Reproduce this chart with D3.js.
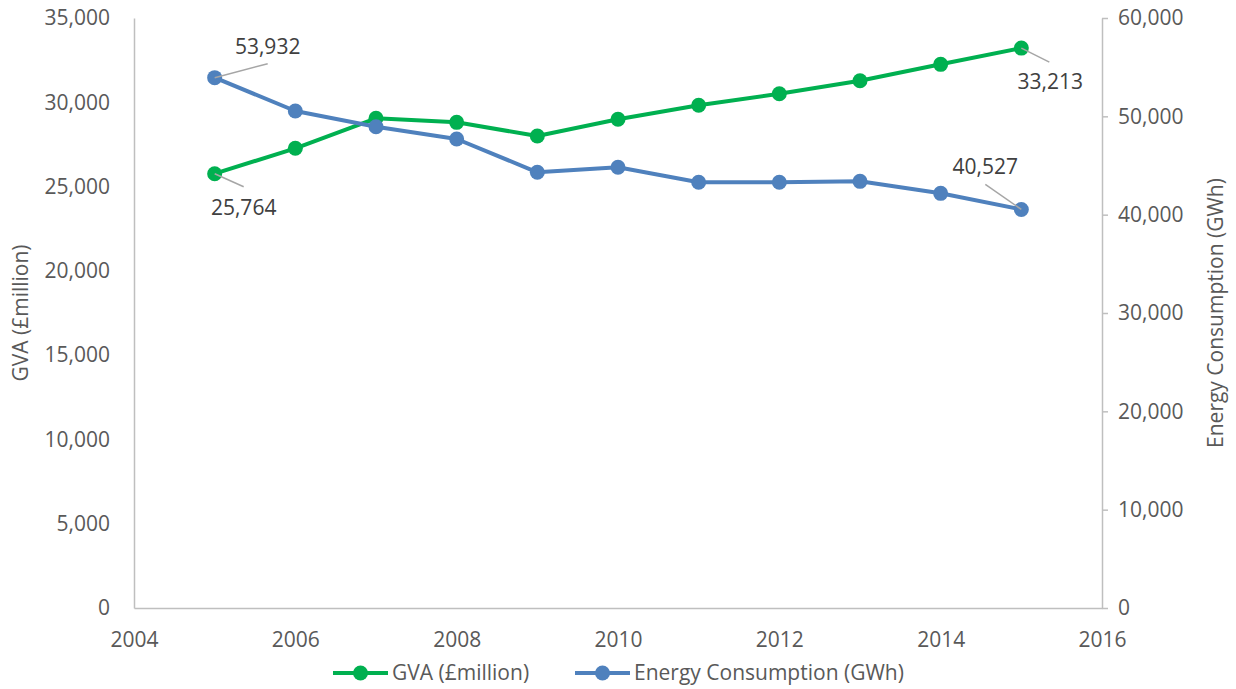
<!DOCTYPE html>
<html>
<head>
<meta charset="utf-8">
<script src="https://cdn.jsdelivr.net/npm/d3@7/dist/d3.min.js"></script>
<style>
  html, body { margin: 0; padding: 0; background: #fff; }
  svg { display: block; }
  text { font-family: "Open Sans", "Noto Sans", sans-serif; }
</style>
</head>
<body>
<svg id="chart" width="1236" height="689"></svg>
<script>
// Years and series values
const years = [2005, 2006, 2007, 2008, 2009, 2010, 2011, 2012, 2013, 2014, 2015];
const gva = [25764, 27270, 29050, 28811, 28000, 28990, 29820, 30510, 31280, 32252, 33213];
const energy = [53932, 50542, 48946, 47695, 44308, 44817, 43290, 43290, 43390, 42170, 40527];

// Axis ticks
const xTicks = [2004, 2006, 2008, 2010, 2012, 2014, 2016];
const leftTicks = [0, 5000, 10000, 15000, 20000, 25000, 30000, 35000];
const rightTicks = [0, 10000, 20000, 30000, 40000, 50000, 60000];

// Series names
const seriesNames = ["GVA (£million)", "Energy Consumption (GWh)"];

const GREEN = "#00B050";
const BLUE = "#4F81BD";
const AXIS = "#BFBFBF";
const TICKTXT = "#595959";
const LABELTXT = "#404040";
const FS = 21;

const svg = d3.select("#chart");
const plotL = 134, plotR = 1102, plotT = 18, plotB = 608;

const x = d3.scaleLinear().domain([2004, 2016]).range([plotL, plotR]);
const yL = d3.scaleLinear().domain([0, 35000]).range([plotB, plotT]);
const yR = d3.scaleLinear().domain([0, 60000]).range([plotB, plotT]);
const fmt = d3.format(",");

function styleAxis(g) {
  g.select(".domain").attr("stroke", AXIS).attr("stroke-width", 1.5);
  g.selectAll(".tick line").attr("stroke", AXIS).attr("stroke-width", 1.5);
  g.selectAll(".tick text").attr("fill", TICKTXT).style("font-size", FS + "px")
    .style("font-family", '"Open Sans", "Noto Sans", sans-serif');
}

// Bottom axis
svg.append("g").attr("transform", `translate(0,${plotB})`)
  .call(d3.axisBottom(x).tickValues(xTicks).tickFormat(d3.format("d"))
    .tickSize(0).tickPadding(24))
  .call(styleAxis);

// Left axis
svg.append("g").attr("transform", `translate(${plotL},0)`)
  .call(d3.axisLeft(yL).tickValues(leftTicks).tickFormat(fmt)
    .tickSize(0).tickPadding(24))
  .call(styleAxis);

// Right axis
svg.append("g").attr("transform", `translate(${plotR},0)`)
  .call(d3.axisRight(yR).tickValues(rightTicks).tickFormat(fmt)
    .tickSizeInner(6).tickSizeOuter(0).tickPadding(10))
  .call(styleAxis);

// Axis titles
const midY = (plotT + plotB) / 2;
svg.append("text")
  .attr("transform", `translate(28,${midY}) rotate(-90)`)
  .attr("text-anchor", "middle")
  .attr("fill", TICKTXT).style("font-size", FS + "px")
  .text("GVA (£million)");
svg.append("text")
  .attr("transform", `translate(1223,${midY}) rotate(-90)`)
  .attr("text-anchor", "middle")
  .attr("fill", TICKTXT).style("font-size", FS + "px")
  .text("Energy Consumption (GWh)");

// Series
const gvaPts = years.map((yr, i) => [x(yr), yL(gva[i])]);
const enPts = years.map((yr, i) => [x(yr), yR(energy[i])]);
const line = d3.line();

function drawSeries(pts, color) {
  svg.append("path").attr("d", line(pts))
    .attr("fill", "none").attr("stroke", color).attr("stroke-width", 4)
    .attr("stroke-linejoin", "round").attr("stroke-linecap", "round");
  svg.append("g").selectAll("circle").data(pts).join("circle")
    .attr("cx", d => d[0]).attr("cy", d => d[1]).attr("r", 7.5)
    .attr("fill", color);
}
drawSeries(gvaPts, GREEN);
drawSeries(enPts, BLUE);

// Data labels with leader lines at the first and last points
const labels = [
  { p: enPts[0], v: energy[0], lx: 53, ly: -14, tx: 53, ty: -31 },
  { p: gvaPts[0], v: gva[0], lx: 29, ly: 13, tx: 29, ty: 34 },
  { p: gvaPts[10], v: gva[10], lx: 28, ly: 14, tx: 29, ty: 34 },
  { p: enPts[10], v: energy[10], lx: -36, ly: -25, tx: -36, ty: -43 }
];
labels.forEach(l => {
  svg.append("line")
    .attr("x1", l.p[0]).attr("y1", l.p[1])
    .attr("x2", l.p[0] + l.lx).attr("y2", l.p[1] + l.ly)
    .attr("stroke", "#A6A6A6").attr("stroke-width", 1.5);
  svg.append("text")
    .attr("x", l.p[0] + l.tx).attr("y", l.p[1] + l.ty)
    .attr("dy", "0.35em").attr("text-anchor", "middle")
    .attr("fill", LABELTXT).style("font-size", FS + "px")
    .text(fmt(l.v));
});

// Legend
const legendY = 673;
const legendItems = [
  { name: seriesNames[0], color: GREEN, x0: 333 },
  { name: seriesNames[1], color: BLUE, x0: 575 }
];
legendItems.forEach(it => {
  const g = svg.append("g");
  g.append("line").attr("x1", it.x0).attr("x2", it.x0 + 55)
    .attr("y1", legendY).attr("y2", legendY)
    .attr("stroke", it.color).attr("stroke-width", 4);
  g.append("circle").attr("cx", it.x0 + 27.5).attr("cy", legendY).attr("r", 7.5)
    .attr("fill", it.color);
  g.append("text").attr("x", it.x0 + 59).attr("y", legendY).attr("dy", "0.35em")
    .attr("fill", TICKTXT).style("font-size", FS + "px").text(it.name);
});
</script>
</body>
</html>
